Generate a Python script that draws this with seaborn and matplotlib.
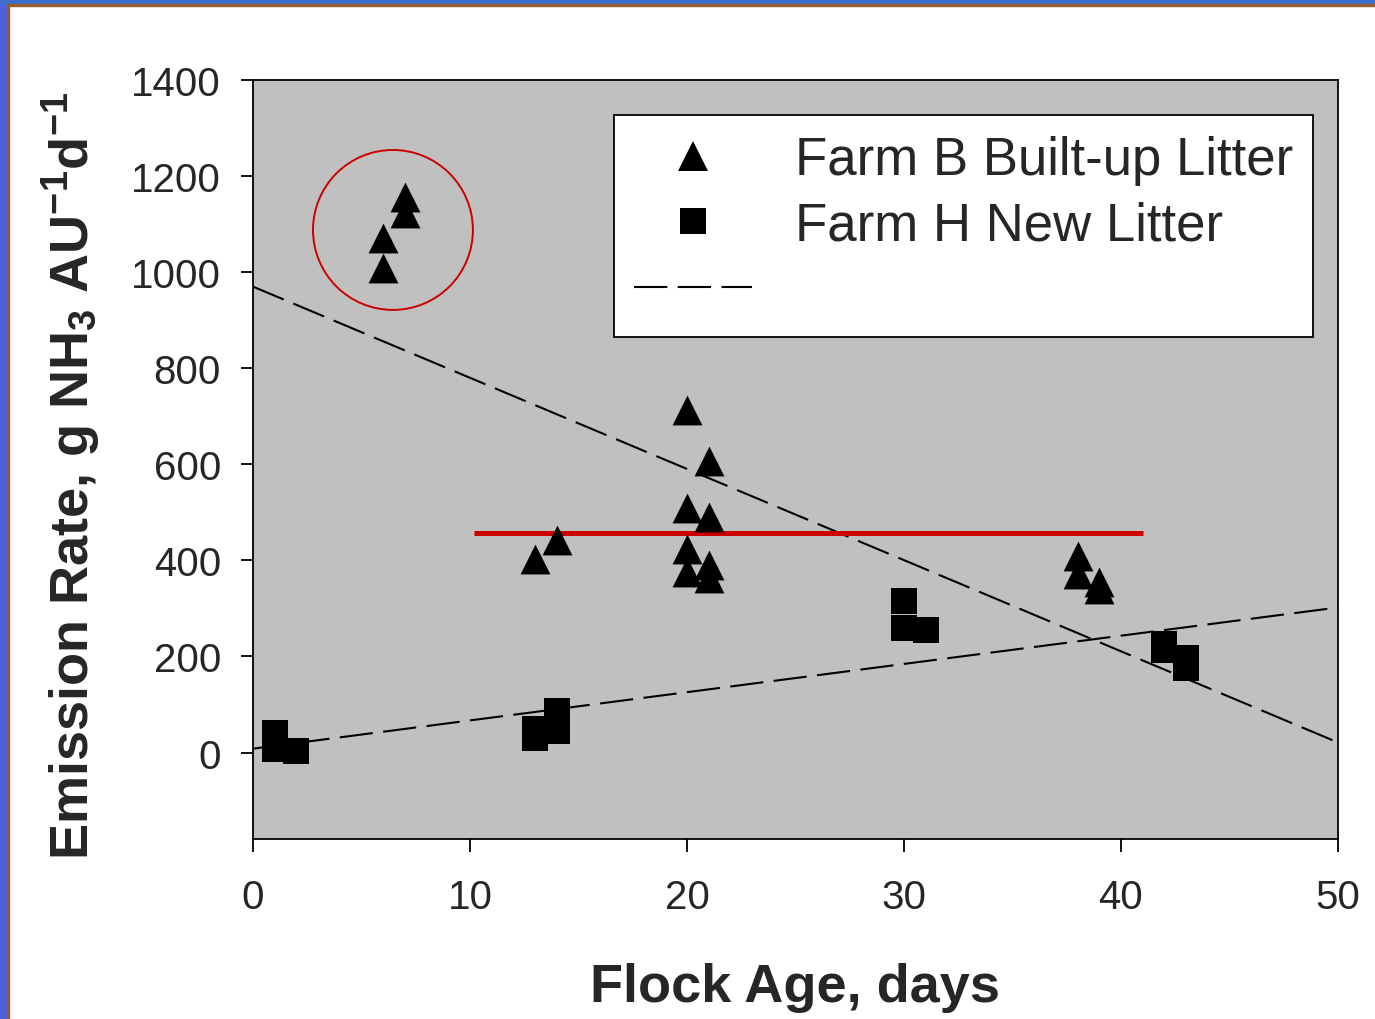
import matplotlib
matplotlib.use("Agg")
import matplotlib.pyplot as plt
import seaborn as sns
import pandas as pd
from matplotlib.patches import Ellipse, Rectangle
from matplotlib.lines import Line2D

# ---- data ----
farmB_age = [6, 6, 7, 7, 13, 14, 20, 20, 20, 20, 21, 21, 21, 21, 38, 38, 39, 39]
farmB_rate = [1009, 1071, 1157, 1123, 402, 443, 714, 510, 424, 376, 607, 491, 391, 364, 410, 371, 356, 341]
farmH_age = [1, 1, 2, 13, 13, 14, 14, 30, 30, 31, 42, 42, 43, 43]
farmH_rate = [40, 8, 4, 50, 30, 87, 44, 316, 260, 256, 225, 214, 196, 175]
trend_x = [0, 50]
trendB_y = [970, 21]
trendH_y = [8, 302]
mean_x = [10.2, 41.0]
mean_y = [456, 456]
circle_center = (6.45, 1088)
xticks = [0, 10, 20, 30, 40, 50]
yticks = [0, 200, 400, 600, 800, 1000, 1200, 1400]
legend_labels = ["Farm B Built-up Litter", "Farm H New Litter", ""]

sns.set_theme(style="white")
plt.rcParams["font.family"] = ["Liberation Sans", "DejaVu Sans"]
plt.rcParams["mathtext.fontset"] = "custom"
plt.rcParams["mathtext.rm"] = "Liberation Sans:bold"
plt.rcParams["mathtext.it"] = "Liberation Sans:bold"
plt.rcParams["mathtext.bf"] = "Liberation Sans:bold"
plt.rcParams["mathtext.default"] = "bf"

fig = plt.figure(figsize=(13.75, 10.2), dpi=100)
fig.patch.set_facecolor("white")
# slide border strips
fig.patches.append(Rectangle((0, 0), 7 / 1375, 1, transform=fig.transFigure, color="#4f5fe0", zorder=0))
fig.patches.append(Rectangle((7 / 1375, 0), 2 / 1375, 1, transform=fig.transFigure, color="#9a5a30", zorder=0))
fig.patches.append(Rectangle((0, 1 - 5 / 1020), 1, 5 / 1020, transform=fig.transFigure, color="#3a6fd0", zorder=0))
fig.patches.append(Rectangle((7 / 1375, 1 - 7 / 1020), 1, 2 / 1020, transform=fig.transFigure, color="#9a5a30", zorder=0))

ax = fig.add_axes([0.184, 0.1765, 0.789, 0.744])
ax.set_facecolor("#c0c0c0")

dfB = pd.DataFrame({"age": farmB_age, "rate": farmB_rate})
dfH = pd.DataFrame({"age": farmH_age, "rate": farmH_rate})

dash = (16, 5)
ax.plot(trend_x, trendB_y, color="black", lw=1.5, dashes=dash, zorder=2)
ax.plot(trend_x, trendH_y, color="black", lw=1.5, dashes=dash, zorder=2)
ax.plot(mean_x, mean_y, color="#cc0000", lw=3.6, solid_capstyle="butt", zorder=2)

sns.scatterplot(data=dfB, x="age", y="rate", marker="^", s=21.5 ** 2, color="black",
                edgecolor="black", linewidth=0, ax=ax, zorder=3)
sns.scatterplot(data=dfH, x="age", y="rate", marker="s", s=18.7 ** 2, color="black",
                edgecolor="black", linewidth=0, ax=ax, zorder=3)

ax.add_patch(Ellipse(circle_center, width=7.37, height=333, fill=False,
                     edgecolor="#cc0000", lw=1.4, zorder=4))

ax.set_xlim(0, 50)
ax.set_ylim(-180, 1400)
ax.set_xticks(xticks)
ax.set_yticks(yticks)
ax.tick_params(axis="both", which="major", direction="out", length=9, width=1.3,
               labelsize=29, color="black", bottom=True, left=True, top=False, right=False)
ax.tick_params(axis="y", pad=14)
ax.tick_params(axis="x", pad=19)
for sp in ax.spines.values():
    sp.set_color("black")
    sp.set_linewidth(1.3)

ax.set_xlabel("Flock Age, days", fontsize=39, fontweight="bold", labelpad=33)
ax.set_ylabel(r"Emission Rate, g NH$_{3}$ AU$^{-1}$d$^{-1}$", fontsize=39,
              fontweight="bold", labelpad=20)
ax.yaxis.label.set_y(0.48)

handles = [
    Line2D([], [], marker="^", color="black", ls="none", markersize=21.5, markeredgewidth=0),
    Line2D([], [], marker="s", color="black", ls="none", markersize=18.7, markeredgewidth=0),
    Line2D([], [], color="black", lw=1.5, dashes=dash),
]
leg = ax.legend(handles, legend_labels, loc="upper right", bbox_to_anchor=(0.977, 0.954),
                fontsize=38, frameon=True, fancybox=False, edgecolor="black",
                framealpha=1, handlelength=2.25, handletextpad=0.8, labelspacing=0.3,
                borderpad=0.38, borderaxespad=0)
leg.get_frame().set_linewidth(1.3)

fig.savefig("out.png", dpi=100)
